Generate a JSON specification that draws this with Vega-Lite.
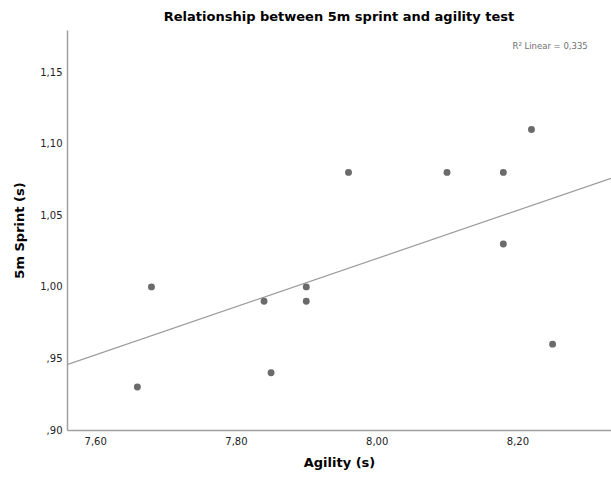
{
  "$schema": "https://vega.github.io/schema/vega-lite/v6.json",
  "width": 544,
  "height": 400,
  "autosize": {"type": "none"},
  "padding": {"left": 67, "top": 30, "right": 0, "bottom": 48},
  "background": "white",
  "config": {"view": {"stroke": null}, "font": "DejaVu Sans"},
  "title": {
    "text": "Relationship between 5m sprint and agility test",
    "fontSize": 13,
    "fontWeight": "bold",
    "font": "DejaVu Sans",
    "color": "#000000",
    "offset": 6,
    "anchor": "middle"
  },
  "datasets": {
    "points": [
      {"agility": 7.66, "sprint": 0.93},
      {"agility": 7.68, "sprint": 1.00},
      {"agility": 7.84, "sprint": 0.99},
      {"agility": 7.85, "sprint": 0.94},
      {"agility": 7.90, "sprint": 1.00},
      {"agility": 7.90, "sprint": 0.99},
      {"agility": 7.96, "sprint": 1.08},
      {"agility": 8.10, "sprint": 1.08},
      {"agility": 8.18, "sprint": 1.08},
      {"agility": 8.18, "sprint": 1.03},
      {"agility": 8.22, "sprint": 1.11},
      {"agility": 8.25, "sprint": 0.96}
    ],
    "annotation": [
      {"agility": 8.30, "sprint": 1.168, "label": "R² Linear = 0,335"}
    ]
  },
  "layer": [
    {
      "data": {"name": "points"},
      "transform": [{"regression": "sprint", "on": "agility", "extent": [7.56, 8.333]}],
      "mark": {"type": "line", "color": "#9a9a9a", "strokeWidth": 1.2, "clip": true},
      "encoding": {
        "x": {
          "field": "agility",
          "type": "quantitative",
          "scale": {"domain": [7.56, 8.333], "nice": false, "zero": false},
          "axis": {
            "title": "Agility (s)",
            "values": [7.6, 7.8, 8.0, 8.2],
            "labelExpr": "replace(format(datum.value, '.2f'), '.', ',')",
            "ticks": false,
            "grid": false,
            "domainColor": "#a0a0a0",
            "domainWidth": 1.5,
            "labelFont": "DejaVu Sans",
            "labelFontSize": 10,
            "labelColor": "#222222",
            "labelPadding": 6,
            "titleFont": "DejaVu Sans",
            "titleFontSize": 13,
            "titleFontWeight": "bold",
            "titleColor": "#000000",
            "titlePadding": 10
          }
        },
        "y": {
          "field": "sprint",
          "type": "quantitative",
          "scale": {"domain": [0.9, 1.1795], "nice": false, "zero": false},
          "axis": {
            "title": "5m Sprint (s)",
            "values": [0.9, 0.95, 1.0, 1.05, 1.1, 1.15],
            "labelExpr": "datum.value < 1 ? replace(format(datum.value, '.2f'), '0.', ',') : replace(format(datum.value, '.2f'), '.', ',')",
            "ticks": false,
            "grid": false,
            "domainColor": "#a0a0a0",
            "domainWidth": 1.5,
            "labelFont": "DejaVu Sans",
            "labelFontSize": 10,
            "labelColor": "#222222",
            "labelPadding": 5,
            "titleFont": "DejaVu Sans",
            "titleFontSize": 13,
            "titleFontWeight": "bold",
            "titleColor": "#000000",
            "titlePadding": 13
          }
        }
      }
    },
    {
      "data": {"name": "points"},
      "mark": {"type": "circle", "size": 48, "color": "#6b6b6b", "opacity": 1},
      "encoding": {
        "x": {"field": "agility", "type": "quantitative"},
        "y": {"field": "sprint", "type": "quantitative"}
      }
    },
    {
      "data": {"name": "annotation"},
      "mark": {"type": "text", "align": "right", "baseline": "middle", "fontSize": 8.5, "color": "#707070", "font": "DejaVu Sans"},
      "encoding": {
        "x": {"field": "agility", "type": "quantitative"},
        "y": {"field": "sprint", "type": "quantitative"},
        "text": {"field": "label"}
      }
    }
  ]
}
